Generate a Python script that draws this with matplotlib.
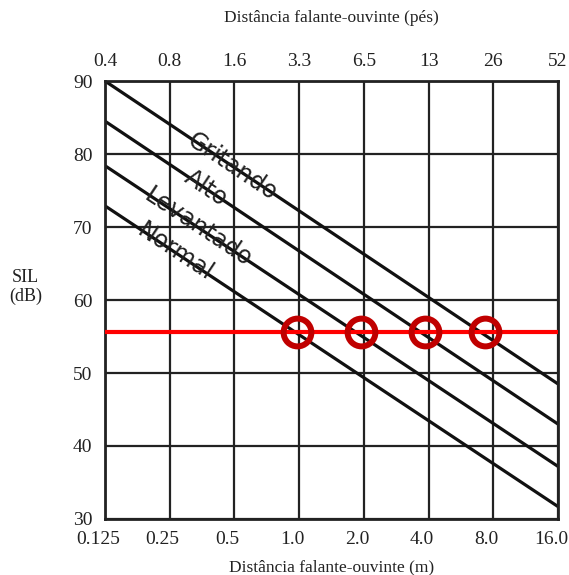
import numpy as np
import matplotlib
matplotlib.use('Agg')
import matplotlib.pyplot as plt
import matplotlib.transforms as mtransforms
from matplotlib.ticker import NullLocator

# data
dist_m = [0.125, 0.25, 0.5, 1.0, 2.0, 4.0, 8.0, 16.0]
dist_m_labels = ['0.125', '0.25', '0.5', '1.0', '2.0', '4.0', '8.0', '16.0']
dist_ft_labels = ['0.4', '0.8', '1.6', '3.3', '6.5', '13', '26', '52']
sil_ticks = [30, 40, 50, 60, 70, 80, 90]

line_x = [0.125, 16.0]
gritando = [90.0, 48.5]
alto = [84.5, 43.0]
levantado = [78.4, 37.2]
normal = [72.9, 31.7]
line_names = ['Gritando', 'Alto', 'Levantado', 'Normal']

red_x = [0.125, 15.7]
red_level = 55.6
circle_x = [0.98, 1.94, 3.87, 7.3]

serif = 'Liberation Serif'

fig = plt.figure(figsize=(5.69, 5.75), dpi=100)
ax = fig.add_axes([0.1845, 0.0974, 0.7962, 0.7617])
ax.set_xscale('log', base=2)
ax.set_xlim(0.125, 16)
ax.set_ylim(30, 90)

ax.set_xticks(dist_m)
ax.set_xticklabels(dist_m_labels)
ax.set_yticks(sil_ticks)
ax.minorticks_off()
ax.grid(True, color='#222222', lw=1.6)
ax.set_axisbelow(True)
for s in ax.spines.values():
    s.set_linewidth(2)
    s.set_color('#222222')
ax.tick_params(length=0, labelsize=14, pad=9)
for t in ax.get_xticklabels() + ax.get_yticklabels():
    t.set_fontfamily(serif)
    t.set_color('#222222')
# bottom labels sit a bit left of the grid lines
off = mtransforms.ScaledTranslation(-7/100., 0, fig.dpi_scale_trans)
for t in ax.get_xticklabels():
    t.set_transform(t.get_transform() + off)

top = ax.secondary_xaxis('top')
top.set_xticks(dist_m)
top.set_xticklabels(dist_ft_labels)
top.xaxis.set_minor_locator(NullLocator())
top.tick_params(which='both', length=0, labelsize=14, pad=8)
for t in top.get_xticklabels():
    t.set_fontfamily(serif)
    t.set_color('#222222')
top.spines['top'].set_visible(False)
top.set_xlabel('Distância falante-ouvinte (pés)', fontsize=12.5, family=serif,
               labelpad=22, color='#222222')
ax.set_xlabel('Distância falante-ouvinte (m)', fontsize=12.5, family=serif,
              labelpad=8, color='#222222')
ax.text(-0.175, 0.53, 'SIL\n(dB)', transform=ax.transAxes, ha='center', va='center',
        fontsize=13, family=serif, linespacing=1.1, color='#222222')

series = [gritando, alto, levantado, normal]
for yy in series:
    ax.plot(line_x, yy, color='#111111', lw=2.3, solid_capstyle='butt')

# labels along the lines
label_at = [0.49, 0.367, 0.34, 0.264]
lx = np.log2(line_x)
for name, yy, xl in zip(line_names, series, label_at):
    yl = np.interp(np.log2(xl), lx, yy)
    p1 = ax.transData.transform((line_x[0], yy[0]))
    p2 = ax.transData.transform((line_x[1], yy[1]))
    ang = np.degrees(np.arctan2(p2[1]-p1[1], p2[0]-p1[0]))
    ax.text(xl, yl, name, rotation=ang, rotation_mode='anchor', ha='center',
            va='center', fontsize=17, color='#222222', family='DejaVu Sans')

ax.plot(red_x, [red_level, red_level], color='#ff0000', lw=3, zorder=4)
ax.plot(circle_x, [red_level]*len(circle_x), 'o', ms=20, mfc='none',
        mec='#c00000', mew=4.3, zorder=5, clip_on=False)

plt.savefig('out.png', dpi=100)
